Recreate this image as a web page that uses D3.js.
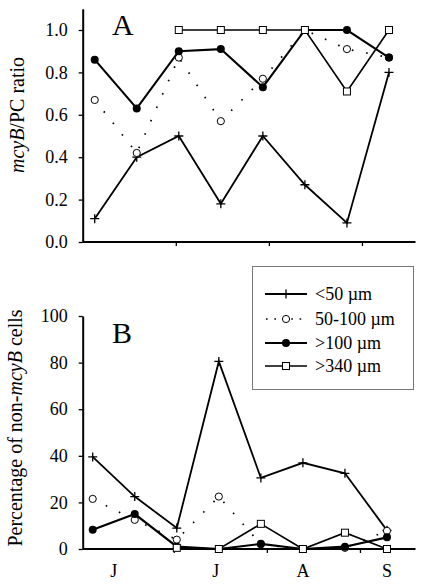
<!DOCTYPE html>
<html>
<head>
<meta charset="utf-8">
<script src="https://cdn.jsdelivr.net/npm/d3@7"></script>
<style>
  html, body { margin: 0; padding: 0; background: #fff; }
  svg { display: block; }
  svg text { font-family: 'Liberation Serif', 'DejaVu Serif', 'Times New Roman', serif; }
</style>
</head>
<body>
<svg id="chart" width="422" height="584"></svg>
<script>
// ---------- data ----------
const sampleDates = ["2000-06-04","2000-06-18","2000-07-02","2000-07-16","2000-07-30","2000-08-13","2000-08-27","2000-09-10"];
const monthTickDates = ["2000-07-01","2000-08-01","2000-09-01"];
const monthLabels = ["J","J","A","S"];
const monthLabelDates = ["2000-06-11","2000-07-15","2000-08-13","2000-09-10"];

const seriesNames = ["<50 \u00b5m","50-100 \u00b5m",">100 \u00b5m",">340 \u00b5m"];

// Panel A: mcyB/PC ratio
const ratioLt50    = [0.11, 0.40, 0.50, 0.18, 0.50, 0.27, 0.09, 0.80];
const ratio50to100 = [0.67, 0.42, 0.87, 0.57, 0.77, 1.00, 0.91, 0.87];
const ratioGt100   = [0.86, 0.63, 0.90, 0.91, 0.73, 1.00, 1.00, 0.87];
const ratioGt340   = [null, null, 1.00, 1.00, 1.00, 1.00, 0.71, 1.00];

// Panel B: percentage of non-mcyB cells
const pctLt50    = [39.5, 22.5, 9.0, 80.5, 30.5, 37.0, 32.5, 8.0];
const pct50to100 = [21.5, 12.5, 4.0, 22.5, 2.0, 0.0, 0.5, 7.8];
const pctGt100   = [8.3, 15.0, 1.0, 0.0, 2.2, 0.0, 1.0, 5.0];
const pctGt340   = [null, null, 0.5, 0.0, 10.8, 0.0, 7.0, 0.0];

const yTicksA = [0, 0.2, 0.4, 0.6, 0.8, 1.0];
const yTicksB = [0, 20, 40, 60, 80, 100];

// ---------- setup ----------
const parse = d3.timeParse("%Y-%m-%d");
const dates = sampleDates.map(parse);
const svg = d3.select("#chart");
const FONT = "'Liberation Serif', 'DejaVu Serif', 'Times New Roman', serif";

const xDomain = [parse("2000-05-31"), parse("2000-09-19")];
const xA = d3.scaleTime().domain(xDomain).range([82.7, 416]);
const xB = d3.scaleTime().domain(xDomain).range([80.7, 414]);
const yA = d3.scaleLinear().domain([0, 1.1]).range([242, 8.8]);
const yB = d3.scaleLinear().domain([0, 100]).range([549, 316]);

const styles = [
  {marker: "plus",   line: "solid",  width: 1.8},
  {marker: "open",   line: "dotted", width: 1.7},
  {marker: "filled", line: "solid",  width: 2.1},
  {marker: "square", line: "solid",  width: 1.6}
];

function drawMarker(g, type, x, y) {
  if (type === "plus") {
    g.append("path").attr("d", `M${x-4.5},${y}H${x+4.5}M${x},${y-4.5}V${y+4.5}`)
      .attr("stroke", "#000").attr("stroke-width", 1.3).attr("fill", "none");
  } else if (type === "open") {
    g.append("circle").attr("cx", x).attr("cy", y).attr("r", 3.6)
      .attr("fill", "#fff").attr("stroke", "#000").attr("stroke-width", 1);
  } else if (type === "filled") {
    g.append("circle").attr("cx", x).attr("cy", y).attr("r", 4)
      .attr("fill", "#000");
  } else if (type === "square") {
    g.append("rect").attr("x", x-3.5).attr("y", y-3.5).attr("width", 7).attr("height", 7)
      .attr("fill", "#fff").attr("stroke", "#000").attr("stroke-width", 1);
  }
}

function drawSeries(g, values, x, y, st) {
  const pts = values.map((v, i) => ({d: dates[i], v})).filter(p => p.v !== null);
  const line = d3.line().x(p => x(p.d)).y(p => y(p.v));
  const path = g.append("path").datum(pts).attr("d", line)
    .attr("fill", "none").attr("stroke", "#000").attr("stroke-width", st.width)
    .attr("stroke-linejoin", "miter");
  if (st.line === "dotted") path.attr("stroke-dasharray", "1.6,13");
  const mg = g.append("g");
  pts.forEach(p => drawMarker(mg, st.marker, x(p.d), y(p.v)));
}

function drawPanel(x, y, ticks, fmt, seriesList, letter, letterY, ylabelParts, ylabelX, ylabelY, showMonths) {
  const g = svg.append("g");
  const ya = g.append("g").attr("transform", `translate(82.7,0)`)
    .call(d3.axisLeft(y).tickValues(ticks).tickFormat(d3.format(fmt)).tickSize(4).tickSizeOuter(0).tickPadding(11));
  ya.select(".domain").attr("stroke-width", 2);
  ya.selectAll(".tick line").attr("stroke-width", 1.3);
  ya.selectAll(".tick text").attr("font-family", FONT).attr("font-size", 18).attr("fill", "#000");
  const xa = g.append("g").attr("transform", `translate(0,${y(0)})`)
    .call(d3.axisBottom(x).tickValues(monthTickDates.map(parse)).tickFormat("").tickSize(4).tickSizeOuter(0));
  xa.select(".domain").attr("stroke-width", 2).attr("d", `M82.7,0H415.5`);
  xa.selectAll(".tick line").attr("stroke-width", 1.3);
  seriesList.forEach((vals, i) => drawSeries(g, vals, x, y, styles[i]));
  g.append("text").attr("x", 112).attr("y", letterY).text(letter)
    .attr("font-family", FONT).attr("font-size", 30);
  const t = g.append("text").attr("transform", `translate(${ylabelX},${ylabelY}) rotate(-90)`)
    .attr("text-anchor", "middle").attr("font-family", FONT).attr("font-size", 20);
  ylabelParts.forEach(p => t.append("tspan").text(p.t).attr("font-style", p.i ? "italic" : "normal"));
  if (showMonths) {
    g.selectAll(".mlab").data(monthLabels).enter().append("text")
      .attr("x", (d, i) => x(parse(monthLabelDates[i])))
      .attr("y", 577).attr("text-anchor", "middle")
      .attr("font-family", FONT).attr("font-size", 18).text(d => d);
  }
}

drawPanel(xA, yA, yTicksA, ".1f", [ratioLt50, ratio50to100, ratioGt100, ratioGt340], "A", 35,
  [{t: "mcyB", i: true}, {t: "/PC ratio", i: false}], 23.5, 115, false);
drawPanel(xB, yB, yTicksB, "d", [pctLt50, pct50to100, pctGt100, pctGt340], "B", 343,
  [{t: "Percentage of non-", i: false}, {t: "mcyB", i: true}, {t: " cells", i: false}], 21.5, 428, true);

// ---------- legend ----------
const lg = svg.append("g");
lg.append("rect").attr("x", 252.5).attr("y", 266.5).attr("width", 161).attr("height", 123)
  .attr("fill", "#fff").attr("stroke", "#777").attr("stroke-width", 1);
const rowY = [294, 319, 343, 366];
seriesNames.forEach((name, i) => {
  const st = styles[i];
  const yy = rowY[i];
  const l = lg.append("line").attr("x1", 265).attr("x2", 307).attr("y1", yy).attr("y2", yy)
    .attr("stroke", "#000").attr("stroke-width", st.width);
  if (st.line === "dotted") l.attr("stroke-dasharray", "1.6,6.8").attr("x1", 266);
  drawMarker(lg, st.marker, 286, yy);
  lg.append("text").attr("x", 315).attr("y", yy + 6).text(name)
    .attr("font-family", FONT).attr("font-size", 18);
});
</script>
</body>
</html>
